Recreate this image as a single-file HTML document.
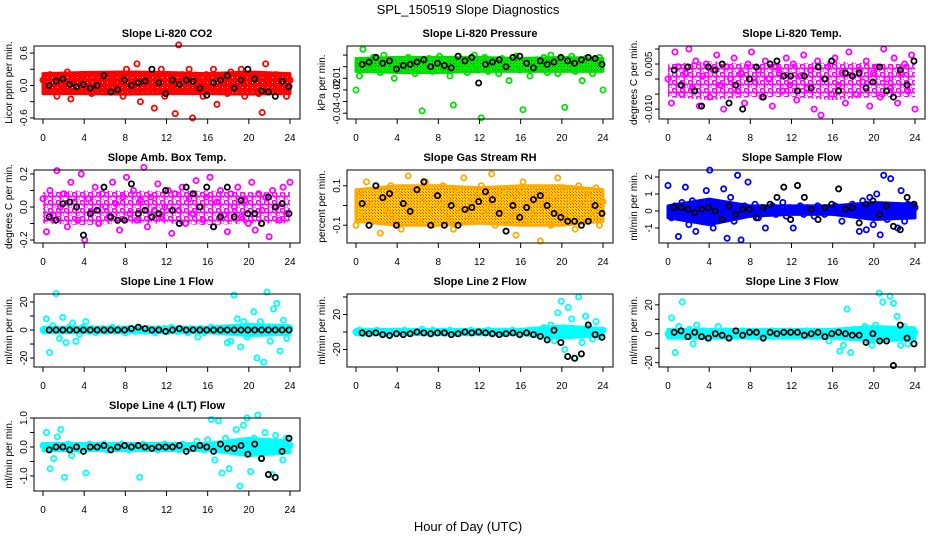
<!DOCTYPE html>
<html><head><meta charset="utf-8"><style>
body{margin:0;background:#fff;width:936px;height:540px;overflow:hidden}
svg{display:block;font-family:"Liberation Sans",sans-serif}
</style></head><body>
<svg id="chart" width="936" height="540" viewBox="0 0 936 540">
<defs>
<pattern id="pr" width="5" height="5" patternUnits="userSpaceOnUse"><rect width="5" height="5" fill="#ff0000"/><rect x="2" y="2" width="1" height="1" fill="#fff"/></pattern>
<pattern id="pg" width="3" height="3" patternUnits="userSpaceOnUse"><rect width="3" height="3" fill="#00ee00"/><rect width="1" height="1" fill="#115511"/></pattern>
<pattern id="po" width="3" height="3" patternUnits="userSpaceOnUse"><rect width="3" height="3" fill="#ffd000"/><rect width="1" height="1" fill="#ff3000"/><rect x="2" y="2" width="1" height="1" fill="#ff6000"/></pattern>
<pattern id="pm" width="8" height="8" patternUnits="userSpaceOnUse"><rect width="8" height="8" fill="#fff"/><circle cx="2.5" cy="2.5" r="2.2" fill="none" stroke="#ff00ff" stroke-width="1.8"/><circle cx="6.5" cy="6.5" r="2.2" fill="none" stroke="#ff00ff" stroke-width="1.8"/></pattern>
</defs>
<text x="468" y="14" text-anchor="middle" font-size="13">SPL_150519  Slope Diagnostics</text>
<text x="468" y="531" text-anchor="middle" font-size="13">Hour of Day (UTC)</text>
</svg>
<script>
const xTicks=[0,4,8,12,16,20,24];
const bandHours=[0,4,8,12,16,20,24];
const co2Color=[0.1,-0.1,0.2,0.05,-0.2,0.15,0.0,0.25,-0.25,0.1,-0.05,0.2,0.0,0.15,-0.15,0.1,0.05,-0.1,0.2,-0.05,0.1,0.15,0.0,-0.2,0.3,0.1,-0.1,0.4,-0.3,0.05,0.2,-0.05,-0.42,0.1,0.3,-0.2,0.15,0.0,-0.52,0.75,0.2,-0.1,0.3,-0.6,0.1,0.05,-0.2,0.2,0.0,0.3,-0.35,0.15,0.1,-0.15,0.25,0.0,-0.1,0.3,-0.2,0.15,0.05,0.2,-0.15,-0.5,0.4,0.1,-0.1,0.2,0.0,0.15,-0.2,0.1];
const co2Black=[0,0.08,0.12,0.02,-0.02,0.02,-0.05,0.0,0.18,-0.12,-0.08,0.1,0.0,0.05,0.08,0.3,0.05,-0.15,0.1,0.02,0.1,0.08,-0.05,-0.18,0.05,0.1,0.18,-0.05,0.1,0.3,0.12,-0.1,-0.12,-0.2,0.08,-0.02];
const co2BandLo=[-0.15,-0.15,-0.16,-0.15,-0.15,-0.16,-0.15];
const co2BandHi=[0.22,0.24,0.25,0.24,0.22,0.25,0.22];
const presColor=[-20,-8,15,5,0,8,3,-5,10,-2,4,-10,6,0,-3,8,2,-6,5,-38,0,7,-4,3,9,-2,5,-8,-33,4,0,6,-5,2,10,-3,-44,8,-4,3,0,-6,7,2,-12,5,9,-3,-37,4,-8,0,6,-2,8,-5,10,3,-6,2,-35,5,9,-4,0,-12,7,3,-6,5,8,-20];
const presBlack=[2,4,8,3,5,-2,1,2,4,6,0,3,1,-1,9,5,8,-14,2,4,6,0,8,9,3,-1,5,2,4,8,5,3,6,8,7,2];
const presBandLo=[-4,-5,-5,-4,-4,-4,-4];
const presBandHi=[7,8,8,8,7,8,7];
const tempColor=[0,-8,9,4,-5,2,10,-3,6,-9,1,5,-6,3,8,-2,-10,4,0,7,-4,2,-8,5,9,-1,3,-6,6,0,-9,4,2,-4,7,-2,5,-7,1,8,-3,3,-10,6,-12,0,4,-5,7,-2,2,-8,9,1,-5,3,-1,6,-9,2,4,-6,10,0,-3,7,-8,2,5,-4,8,-10];
const tempBlack=[3,-2,4,-4,-9,4,3,5,-8,-2,-10,0,4,-6,5,6,1,1,-4,1,-3,4,0,6,-4,2,1,2,-3,-1,4,-4,-6,3,-2,6];
const tempBandLo=[-6,-7,-6,-6,-7,-6,-6];
const tempBandHi=[5,6,5,5,6,5,5];
const ambColor=[5,-15,10,-5,22,0,8,-12,15,3,-8,20,-20,5,-3,12,-10,8,0,-6,15,2,-14,6,18,-4,10,-8,4,24,-12,6,-2,14,-6,0,10,-16,8,-2,12,-10,5,-4,16,0,-8,6,18,-12,3,10,-5,-15,8,0,12,-6,4,-10,15,-14,8,-2,6,-18,10,0,-8,12,-4,15];
const ambBlack=[-6,-8,2,3,0,-17,-4,-2,12,-6,-8,-8,14,-4,-2,-6,-4,10,-2,-10,12,8,0,12,-12,-6,12,-6,4,-4,-4,-10,6,0,2,-4];
const ambBandLo=[-10,-11,-10,-10,-11,-10,-10];
const ambBandHi=[9,10,10,10,10,9,9];
const rhColor=[-10,5,-5,12,0,-8,8,-14,3,-3,10,-6,6,-12,0,15,-4,8,-8,2,12,-2,-10,5,0,10,-6,4,-12,8,-3,14,-5,2,-8,6,10,-4,0,16,-10,5,-2,8,-6,3,-15,7,12,-8,2,-4,9,-18,0,6,-10,4,14,-2,8,-6,3,-12,10,0,-8,5,-3,9,-10,2];
const rhBlack=[1,-10,10,4,6,-10,1,-3,8,12,-10,5,-10,0,-10,-2,-1,2,7,3,-4,-13,0,-6,-1,3,5,0,-4,-6,-8,-8,-10,-8,0,-4];
const rhBandLo=[-8,-10,-10,-9,-10,-10,-8];
const rhBandHi=[8,10,10,9,10,10,8];
const sampColor=[1.5,-0.4,0.3,-1.5,0.5,1.4,-0.8,0.6,-1.2,0.2,-0.5,1.2,2.4,-1.0,0.4,-0.3,1.3,-1.6,0.8,-0.6,2.1,-1.7,0.3,1.7,-0.2,0.4,-0.4,0.2,-1.0,0.1,0.3,-0.2,0.0,0.5,-0.3,0.2,-1.0,0.1,0.3,-0.2,0.2,0.0,-0.3,0.3,0.1,-0.2,0.2,0.0,0.3,-0.1,-0.6,0.2,0.0,0.4,-0.2,-1.2,0.6,-1.1,0.8,-0.8,1.0,-1.4,2.1,-0.5,1.9,0.3,-1.0,1.2,-0.6,0.4,-0.3,0.2];
const sampBlack=[0.2,0.2,0.1,-0.1,0.1,0.2,0.0,-0.5,0.3,-0.2,0.1,0.1,-0.4,0.2,0.4,0.8,1.4,-0.5,1.5,0.8,0.1,-0.5,0.2,0.4,1.3,0.1,0.2,-0.7,0.4,0.6,-0.2,0.3,-0.9,-1.1,0.8,0.4];
const sampBandLo=[-0.4,-0.8,-0.3,-0.2,-0.2,-0.5,-0.4];
const sampBandHi=[0.3,0.7,0.3,0.3,0.3,0.5,0.4];
const l1Color=[0,8,-16,3,26,-6,9,-9,2,5,-8,-3,2,6,-1,1,-2,0,1,-1,0,2,-1,1,0,-2,1,0,-1,2,0,-1,1,0,-2,1,0,1,-1,2,0,-1,1,0,-2,1,0,-5,1,-2,0,2,-1,1,0,-1,-9,-8,25,8,-12,6,-5,1,13,-20,6,-23,27,-8,15,19,-15,7,-6,1];
const l1Black=[0,0,0,0,0,0,0,0,0,0,0,0,1,2,1,0,0,-1,0,1,0,0,0,0,0,0,0,0,0,0,0,0,0,0,0,0];
const l1BandLo=[-2,-2,-2,-2,-2,-4,-3];
const l1BandHi=[2,2,2,2,2,4,3];
const l2Color=[0,2,-2,1,0,-1,2,-1,0,1,-2,0,1,-1,2,0,-1,1,0,3,-1,0,2,-1,0,1,-1,2,0,-2,1,0,-1,2,0,1,-1,0,2,-1,1,0,-2,1,0,2,-1,0,1,-1,0,2,-3,1,5,-6,8,-10,22,35,-20,28,15,-30,40,-12,18,5,-8,12,-5,2];
const l2Black=[-1,-2,-1,-3,-4,-2,-3,-2,0,-1,-2,-1,-1,-3,-2,0,-1,0,-1,-2,-3,-2,-1,-3,-1,-3,-5,-9,2,-12,-28,-30,-25,8,-3,-6];
const l2BandLo=[-3,-3,-3,-3,-3,-7,-4];
const l2BandHi=[3,3,3,3,3,7,4];
const l3Color=[0,11,-13,5,22,-2,3,-7,6,-1,2,-3,1,0,5,-1,2,-2,0,1,-1,2,0,-1,1,-2,0,1,-1,2,0,1,-1,0,2,-1,0,1,-1,2,0,-1,1,0,-2,-5,1,0,-12,-8,17,-13,3,-1,2,5,-5,-8,6,28,22,-3,26,21,12,-8,5,-7,3,1];
const l3Black=[1,2,-2,1,-2,-3,0,-1,-3,2,-1,1,1,-3,1,0,1,1,1,-1,0,1,-2,0,1,0,-1,-1,-6,0,-5,-5,-22,6,-3,-7];
const l3BandLo=[-3,-3,-3,-3,-3,-5,-4];
const l3BandHi=[3,3,3,3,3,5,4];
const l4Color=[0.05,0.5,-0.75,-0.4,0.35,0.6,-1.05,0.1,-0.3,0.05,-0.1,0.0,-0.9,0.1,-0.05,0.05,0.0,0.1,-0.1,0.05,0.0,-0.05,0.1,0.0,-0.1,0.05,0.0,-1.05,0.1,-0.05,0.0,0.05,-0.1,0.0,0.1,-0.05,0.0,0.05,-0.1,0.1,0.0,-0.05,0.05,0.2,0.0,-0.1,0.25,0.95,-0.45,0.9,-0.9,0.3,-0.75,0.1,0.6,-1.35,0.75,1.0,-0.85,0.3,1.1,-0.4,0.5,0.2,-0.95,0.4,0.1,-0.45,0.3,0.05];
const l4Black=[-0.1,0.0,0.0,-0.1,0.0,-0.15,0.0,0.0,0.05,-0.1,0.0,0.05,0.0,0.05,0.0,-0.05,0.0,0.0,0.0,0.05,-0.15,-0.05,0.05,0.0,-0.15,0.1,-0.05,-0.05,0.05,-0.25,0.1,-0.4,-0.95,-1.05,-0.15,0.3];
const l4BandLo=[-0.12,-0.12,-0.12,-0.12,-0.12,-0.3,-0.2];
const l4BandHi=[0.12,0.12,0.12,0.12,0.12,0.3,0.2];

const panels=[
{n:'co2',t:'Slope Li-820 CO2',yl:'Licor ppm per min.',c:'#ff0000',f:'url(#pr)',d:co2Color,b:co2Black,lo:co2BandLo,hi:co2BandHi,ymin:-0.62,ymax:0.73,ticks:[-0.6,-0.3,0,0.3,0.6],lab:{'-0.6':'-0.6','0':'0.0','0.6':'0.6'}},
{n:'pressure',t:'Slope Li-820 Pressure',yl:'kPa per min.',c:'#00e000',f:'url(#pg)',d:presColor,b:presBlack,lo:presBandLo,hi:presBandHi,ymin:-45,ymax:17.8,ticks:[-40,-30,-20,-10,0,10],lab:{'-40':'-0.04','-20':'-0.02','-10':'-0.01'}},
{n:'li820-temp',t:'Slope Li-820 Temp.',yl:'degrees C per min.',c:'#ff00ff',f:'url(#pm)',d:tempColor,b:tempBlack,lo:tempBandLo,hi:tempBandHi,ymin:-13.3,ymax:11,ticks:[-10,-5,0,5,10],lab:{'-10':'-0.010','5':'0.005'},sw:0},
{n:'amb-box-temp',t:'Slope Amb. Box Temp.',yl:'degrees C per min.',c:'#ff00ff',f:'url(#pm)',d:ambColor,b:ambBlack,lo:ambBandLo,hi:ambBandHi,ymin:-21.8,ymax:22.4,ticks:[-20,-10,0,10,20],lab:{'-20':'-0.2','0':'0.0','20':'0.2'},sw:0},
{n:'gas-stream-rh',t:'Slope Gas Stream RH',yl:'percent per min.',c:'#ffaa00',f:'url(#po)',d:rhColor,b:rhBlack,lo:rhBandLo,hi:rhBandHi,ymin:-19,ymax:18,ticks:[-10,0,10],lab:{'-10':'-0.1','10':'0.1'}},
{n:'sample-flow',t:'Slope Sample Flow',yl:'ml/min per min.',c:'#0000ff',f:'#0000ff',d:sampColor,b:sampBlack,lo:sampBandLo,hi:sampBandHi,ymin:-1.88,ymax:2.41,ticks:[-1,0,1,2],lab:{'-1':'-1','0':'0','1':'1','2':'2'}},
{n:'line1-flow',t:'Slope Line 1 Flow',yl:'ml/min per min.',c:'#00ffff',f:'#00ffff',d:l1Color,b:l1Black,lo:l1BandLo,hi:l1BandHi,ymin:-26.4,ymax:25.7,ticks:[-20,-10,0,10,20],lab:{'-20':'-20','0':'0','20':'20'}},
{n:'line2-flow',t:'Slope Line 2 Flow',yl:'ml/min per min.',c:'#00ffff',f:'#00ffff',d:l2Color,b:l2Black,lo:l2BandLo,hi:l2BandHi,ymin:-40,ymax:43.4,ticks:[-20,0,20,40],lab:{'-20':'-20','20':'20'}},
{n:'line3-flow',t:'Slope Line 3 Flow',yl:'ml/min per min.',c:'#00ffff',f:'#00ffff',d:l3Color,b:l3Black,lo:l3BandLo,hi:l3BandHi,ymin:-23,ymax:27.5,ticks:[-20,-10,0,10,20],lab:{'-20':'-20','0':'0','20':'20'}},
{n:'line4-flow',t:'Slope Line 4 (LT) Flow',yl:'ml/min per min.',c:'#00ffff',f:'#00ffff',d:l4Color,b:l4Black,lo:l4BandLo,hi:l4BandHi,ymin:-1.52,ymax:1.0,ticks:[-1,-0.5,0,0.5,1],lab:{'-1':'-1.0','0':'0.0','1':'1.0'}}
];
const svg=document.getElementById('chart');
const NS='http://www.w3.org/2000/svg';
function mk(tag,attrs,parent){const e=document.createElementNS(NS,tag);for(const k in attrs)e.setAttribute(k,attrs[k]);parent.appendChild(e);return e;}
const colL=[34,347,659],W=266,H=73;
panels.forEach((p,i)=>{
  const col=i%3,row=Math.floor(i/3);
  const L=colL[col],T=46+124*row,B=T+H,R=L+W;
  const x0=L+9,x1=L+256;
  const sx=h=>x0+(x1-x0)*h/24;
  const sy=v=>B-(v-p.ymin)/(p.ymax-p.ymin)*H;
  const g=mk('g',{},svg);
  
  
  const tt=mk('text',{x:(L+R)/2,y:T-9,'text-anchor':'middle','font-size':'11','font-weight':'bold'},g);
  tt.textContent=p.t;
  
  
  const yl=mk('text',{x:0,y:0,transform:`translate(${L-22},${(T+B)/2}) rotate(-90)`,'text-anchor':'middle','font-size':'10'},g);
  yl.textContent=p.yl;
  
  
  const up=bandHours.map((h,k)=>sx(h)+','+sy(p.hi[k]));
  const dn=bandHours.map((h,k)=>sx(h)+','+sy(p.lo[k])).reverse();
  const band=mk('polygon',{points:up.concat(dn).join(' '),fill:p.f,stroke:p.c,'stroke-width':(p.sw===0?'0':'3'),'stroke-linejoin':'round'},g);
  
  
  const pts=mk('g',{fill:'none','stroke-width':'1.8'},g);
  
  
  p.d.forEach((v,j)=>{const c=mk('circle',{cx:sx(24*j/(p.d.length-1)),cy:sy(v),r:2.6,stroke:p.c},pts);
    
    });
  p.b.forEach((v,j)=>{const c=mk('circle',{cx:sx(0.6+23.3*j/(p.b.length-1)),cy:sy(v),r:2.6,stroke:'#000'},pts);
    
    });
  const box=mk('rect',{x:L,y:T,width:W,height:H,fill:'none',stroke:'#000','stroke-width':'1'},g);
  
  
  const xa=mk('g',{stroke:'#000'},g);
  
  
  xTicks.forEach(h=>{mk('line',{x1:sx(h),x2:sx(h),y1:B,y2:B+5},xa);
    const t=mk('text',{x:sx(h),y:B+22,'text-anchor':'middle','font-size':'10',stroke:'none'},xa);t.textContent=h;});
  const ya=mk('g',{stroke:'#000'},g);
  
  
  p.ticks.forEach(v=>{mk('line',{x1:L-4,x2:L,y1:sy(v),y2:sy(v)},ya);
    const s=p.lab[String(v)];
    if(s){const t=mk('text',{transform:`translate(${L-7},${sy(v)}) rotate(-90)`,'text-anchor':'middle','font-size':'10',stroke:'none'},ya);t.textContent=s;}});
});
</script>
</body></html>
